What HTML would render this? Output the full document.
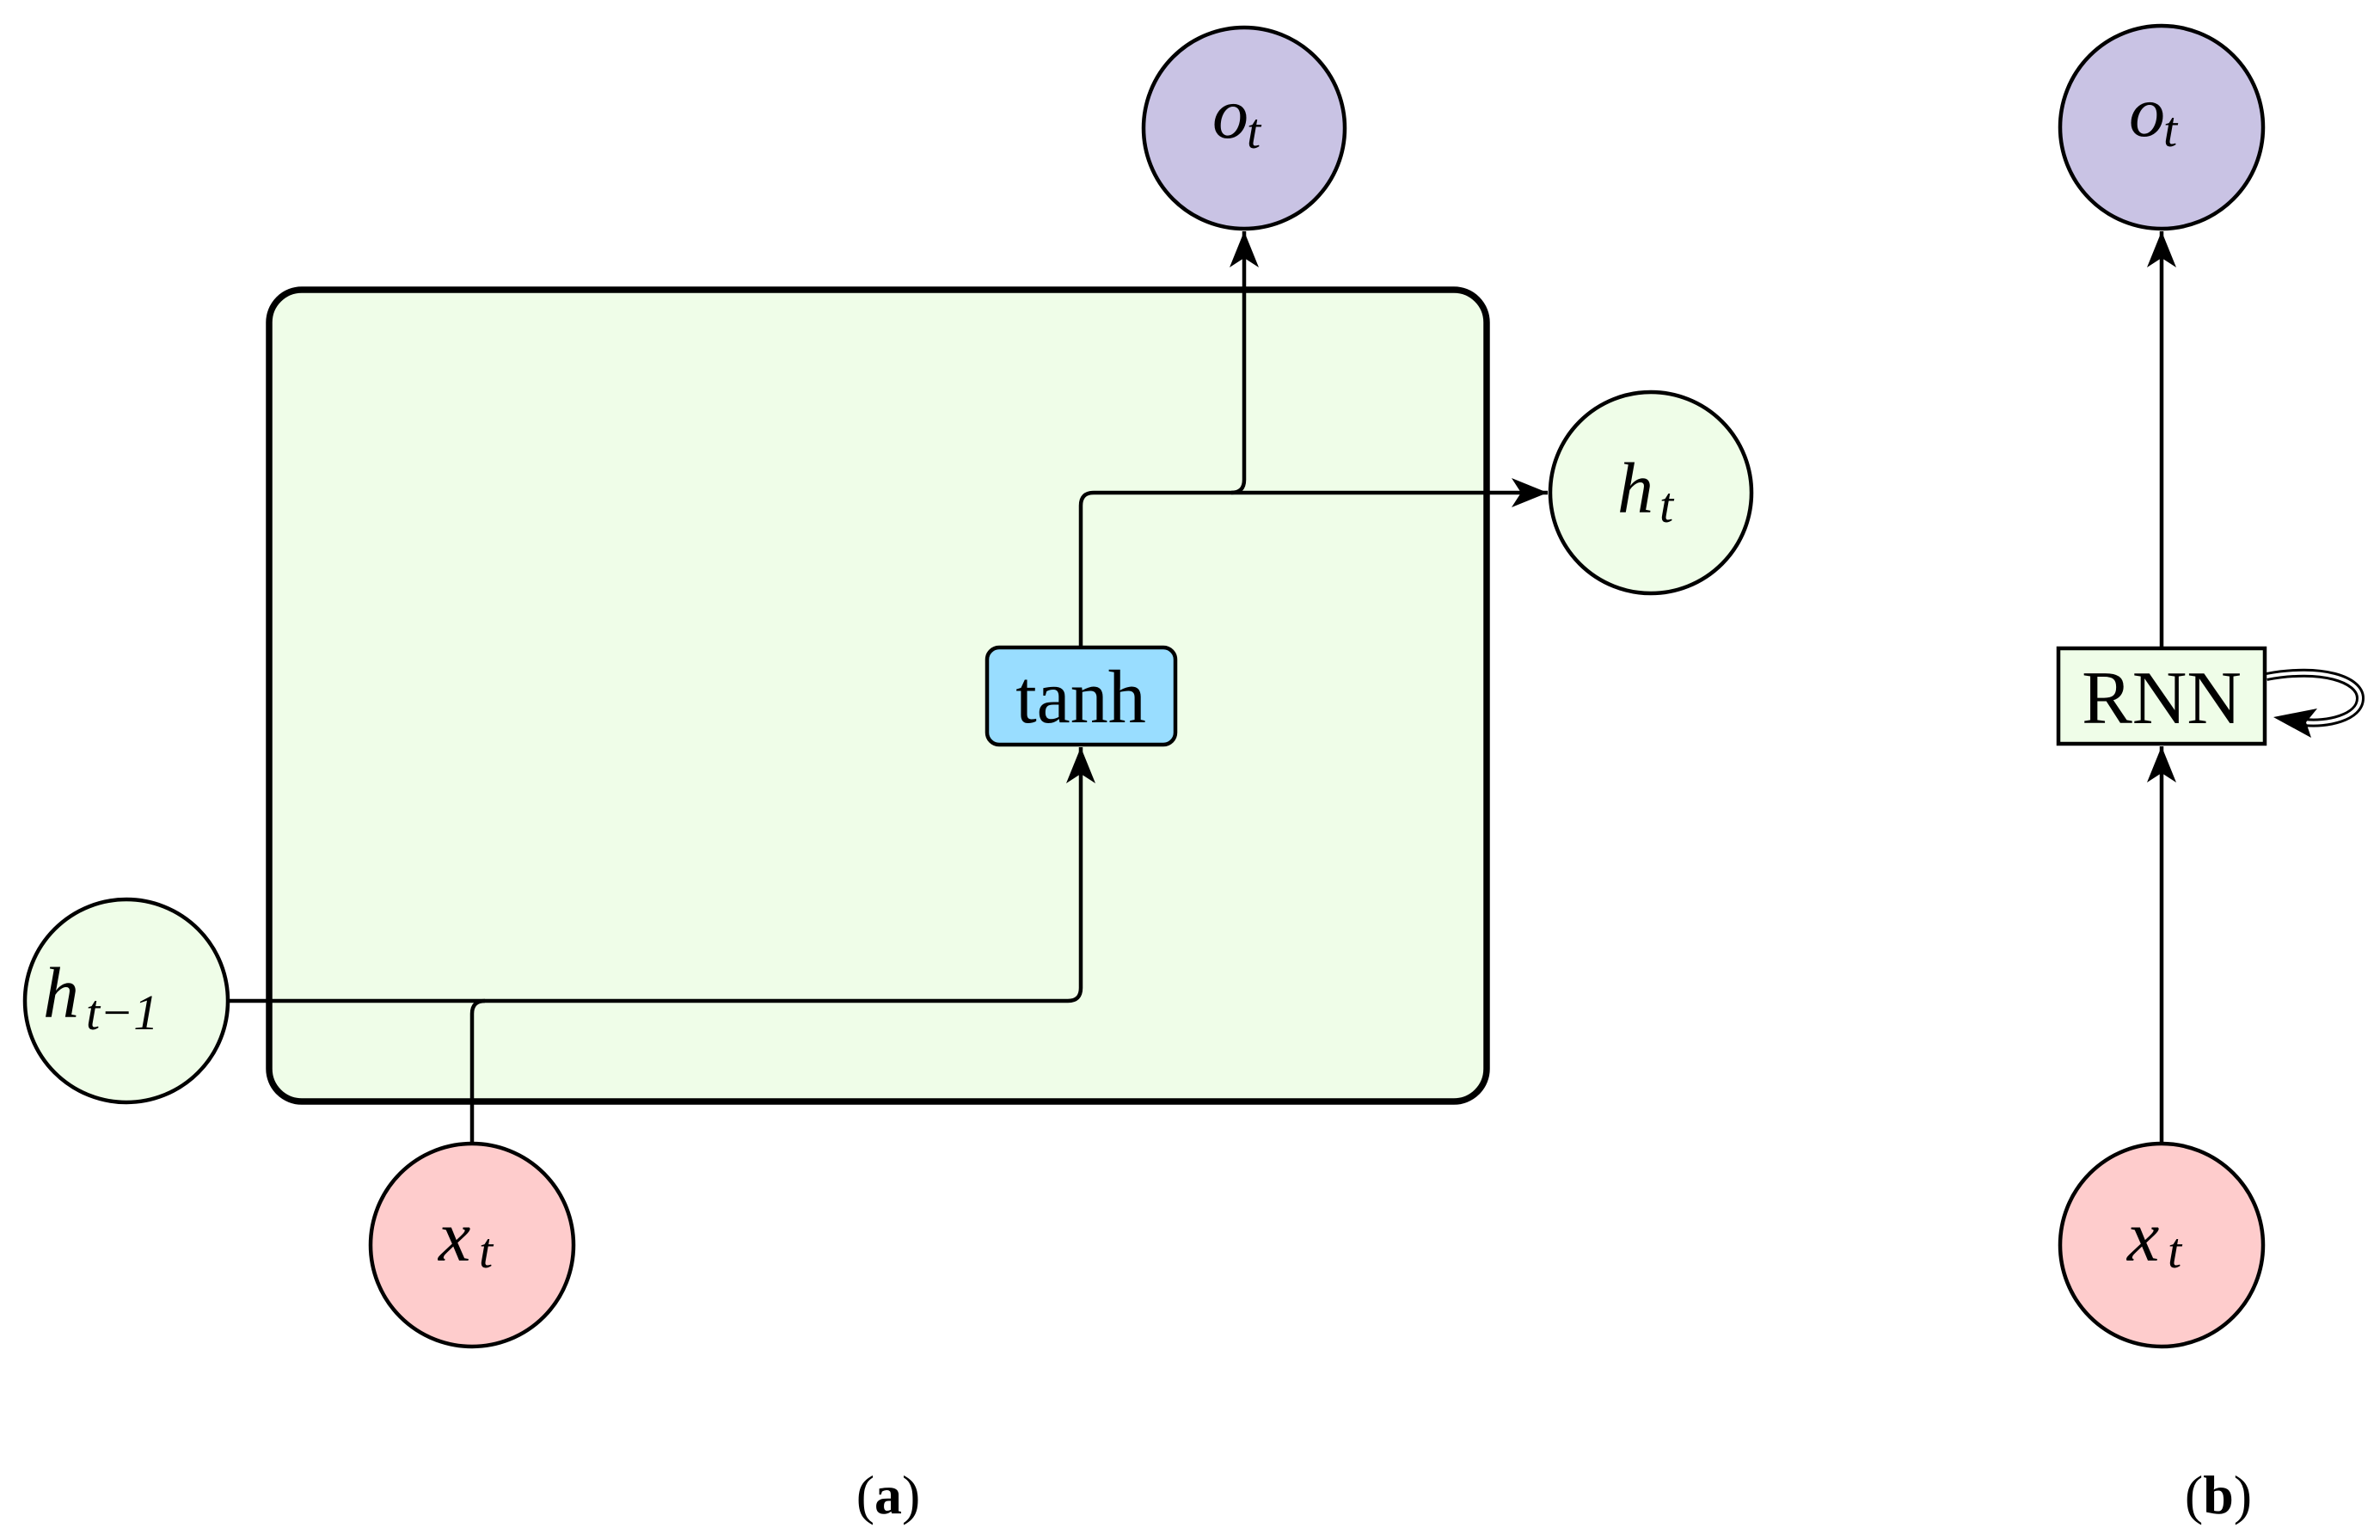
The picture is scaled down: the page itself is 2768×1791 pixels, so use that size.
<!DOCTYPE html>
<html><head><meta charset="utf-8"><style>
html,body{margin:0;padding:0;background:#fff;}
svg{display:block;}
text{font-family:"Liberation Serif",serif;}
.m{font-style:italic;font-size:84px;}
.s{font-style:italic;font-size:58px;}
</style></head><body>
<svg width="2768" height="1791" viewBox="0 0 2768 1791" xmlns="http://www.w3.org/2000/svg">
<defs>
<marker id="a" markerWidth="44" markerHeight="34" refX="42" refY="17" orient="auto" markerUnits="userSpaceOnUse">
<path d="M0,0 L42,17 L0,34 L11,17 Z" fill="#000"/>
</marker>
</defs>
<rect x="313" y="337" width="1416" height="944" rx="38" fill="#effde8" stroke="#000" stroke-width="7.5"/>
<g fill="none" stroke="#000" stroke-width="4.5">
<path d="M266,1164 H1242 Q1257,1164 1257,1149 V869" marker-end="url(#a)"/>
<path d="M549,1329 V1179 Q549,1164 564,1164"/>
<path d="M1257,752 V588 Q1257,573 1272,573 H1800" marker-end="url(#a)"/>
<path d="M1432,573 Q1447,573 1447,558 V269" marker-end="url(#a)"/>
<path d="M2514,1329 V868" marker-end="url(#a)"/>
<path d="M2514,753 V269" marker-end="url(#a)"/>
</g>
<path d="M2636,787 C2700,775 2745,790 2745,812 C2745,835 2705,843 2680,840" fill="none" stroke="#000" stroke-width="10"/>
<path d="M2636,787 C2700,775 2745,790 2745,812 C2745,835 2705,843 2680,840" fill="none" stroke="#fff" stroke-width="4"/>
<path d="M2644,834 L2695,824 L2682,840 L2688,858 Z" fill="#000"/>
<circle cx="1447" cy="149" r="117" fill="#c9c3e4" stroke="#000" stroke-width="4.5"/>
<circle cx="1920" cy="573" r="117" fill="#effde8" stroke="#000" stroke-width="4.5"/>
<circle cx="147" cy="1164" r="118" fill="#effde8" stroke="#000" stroke-width="4.5"/>
<circle cx="549" cy="1448" r="118" fill="#fecccc" stroke="#000" stroke-width="4.5"/>
<circle cx="2514" cy="148" r="118" fill="#c9c3e4" stroke="#000" stroke-width="4.5"/>
<circle cx="2514" cy="1448" r="118" fill="#fecccc" stroke="#000" stroke-width="4.5"/>
<rect x="1148" y="753" width="219" height="113" rx="14" fill="#99ddff" stroke="#000" stroke-width="4.5"/>
<rect x="2394" y="754" width="240" height="111" fill="#effde8" stroke="#000" stroke-width="4.5"/>
<text x="1410" y="160" class="m">o</text><text x="1450" y="172" class="s">t</text>
<text x="1881" y="596" class="m">h</text><text x="1930" y="607" class="s">t</text>
<text x="50" y="1183" class="m">h</text><text x="100" y="1197" class="s">t−1</text>
<text x="510" y="1466" class="m">x</text><text x="557" y="1474" class="s">t</text>
<text x="2476" y="158" class="m">o</text><text x="2516" y="170" class="s">t</text>
<text x="2474" y="1466" class="m">x</text><text x="2521" y="1474" class="s">t</text>
<text x="1257" y="840" text-anchor="middle" style="font-size:88px">tanh</text>
<text x="2514" y="841" text-anchor="middle" style="font-size:88px">RNN</text>
<text x="1033" y="1760" text-anchor="middle" style="font-size:64px">(<tspan font-weight="bold">a</tspan>)</text>
<text x="2580" y="1760" text-anchor="middle" style="font-size:64px">(<tspan font-weight="bold">b</tspan>)</text>
</svg>
</body></html>
